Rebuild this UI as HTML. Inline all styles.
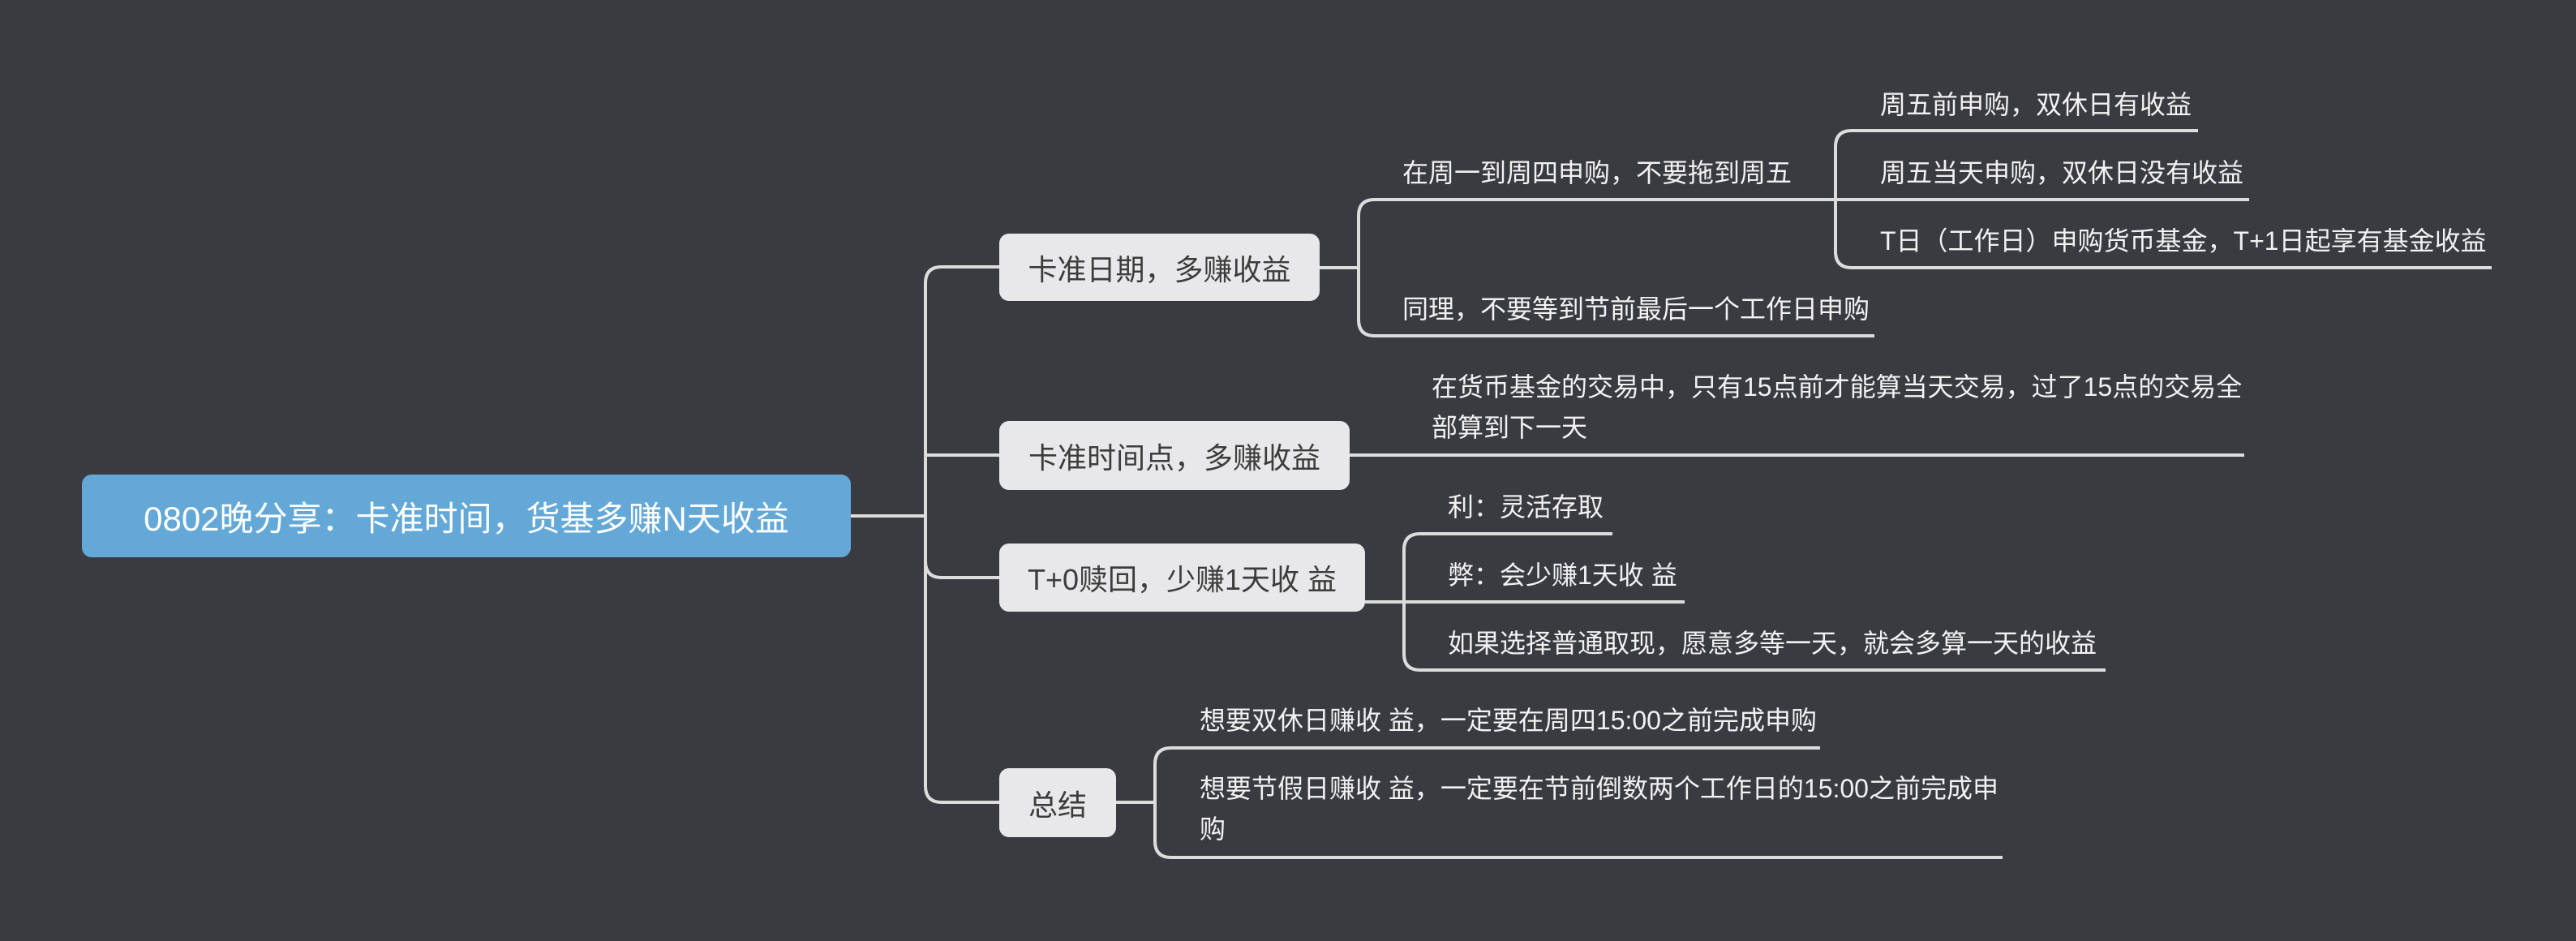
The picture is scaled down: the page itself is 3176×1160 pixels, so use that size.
<!DOCTYPE html>
<html><head><meta charset="utf-8"><style>
body{margin:0;width:3176px;height:1160px;background:#3a3b41;position:relative;overflow:hidden;font-family:"Liberation Sans","Noto Sans CJK SC",sans-serif;}
.t{position:absolute;color:#f2f2f2;font-size:32px;line-height:50px;white-space:nowrap;}
.n{position:absolute;background:#e8e8ea;color:#3c3c3c;font-size:36px;border-radius:12px;display:flex;align-items:center;justify-content:center;white-space:nowrap;}
svg{position:absolute;left:0;top:0;}
</style></head><body>
<svg width="3176" height="1160" fill="none" stroke="#dcdcdc" stroke-width="4">
<path d="M1049 636 H1141"/>
<path d="M1232 329 H1161 Q1141 329 1141 349 V969 Q1141 989 1161 989 H1232"/>
<path d="M1141 561 H1232"/>
<path d="M1141 692 Q1141 712 1161 712 H1232"/>
<path d="M1627 330 H1675"/>
<path d="M2263 246 H1695 Q1675 246 1675 266 V394 Q1675 414 1695 414 H2311"/>
<path d="M2710 161 H2283 Q2263 161 2263 181 V310 Q2263 330 2283 330 H3072"/>
<path d="M2263 246 H2773"/>
<path d="M1664 561 H2767"/>
<path d="M1683 742 H1731"/>
<path d="M1988 658 H1751 Q1731 658 1731 678 V806 Q1731 826 1751 826 H2596"/>
<path d="M1731 742 H2077"/>
<path d="M1376 989 H1424"/>
<path d="M2244 922 H1444 Q1424 922 1424 942 V1037 Q1424 1057 1444 1057 H2469"/>
</svg>
<div class="n" style="left:101px;top:585px;width:948px;height:102px;background:#64a8d8;color:#fff;font-size:42px;">0802晚分享：卡准时间，货基多赚N天收益</div>
<div class="n" style="left:1232px;top:288px;width:395px;height:83px;">卡准日期，多赚收益</div>
<div class="n" style="left:1232px;top:519px;width:432px;height:85px;">卡准时间点，多赚收益</div>
<div class="n" style="left:1232px;top:670px;width:451px;height:84px;">T+0赎回，少赚1天收 益</div>
<div class="n" style="left:1232px;top:947px;width:144px;height:85px;">总结</div>
<div class="t" style="left:1729px;top:188px;">在周一到周四申购，不要拖到周五</div>
<div class="t" style="left:1729px;top:356px;">同理，不要等到节前最后一个工作日申购</div>
<div class="t" style="left:2318px;top:104px;">周五前申购，双休日有收益</div>
<div class="t" style="left:2318px;top:188px;">周五当天申购，双休日没有收益</div>
<div class="t" style="left:2318px;top:272px;">T日（工作日）申购货币基金，T+1日起享有基金收益</div>
<div class="t" style="left:1765px;top:452px;">在货币基金的交易中，只有15点前才能算当天交易，过了15点的交易全<br>部算到下一天</div>
<div class="t" style="left:1785px;top:600px;">利：灵活存取</div>
<div class="t" style="left:1785px;top:684px;">弊：会少赚1天收 益</div>
<div class="t" style="left:1785px;top:768px;">如果选择普通取现，愿意多等一天，就会多算一天的收益</div>
<div class="t" style="left:1479px;top:863px;">想要双休日赚收 益，一定要在周四15:00之前完成申购</div>
<div class="t" style="left:1479px;top:947px;">想要节假日赚收 益，一定要在节前倒数两个工作日的15:00之前完成申<br>购</div>
</body></html>
